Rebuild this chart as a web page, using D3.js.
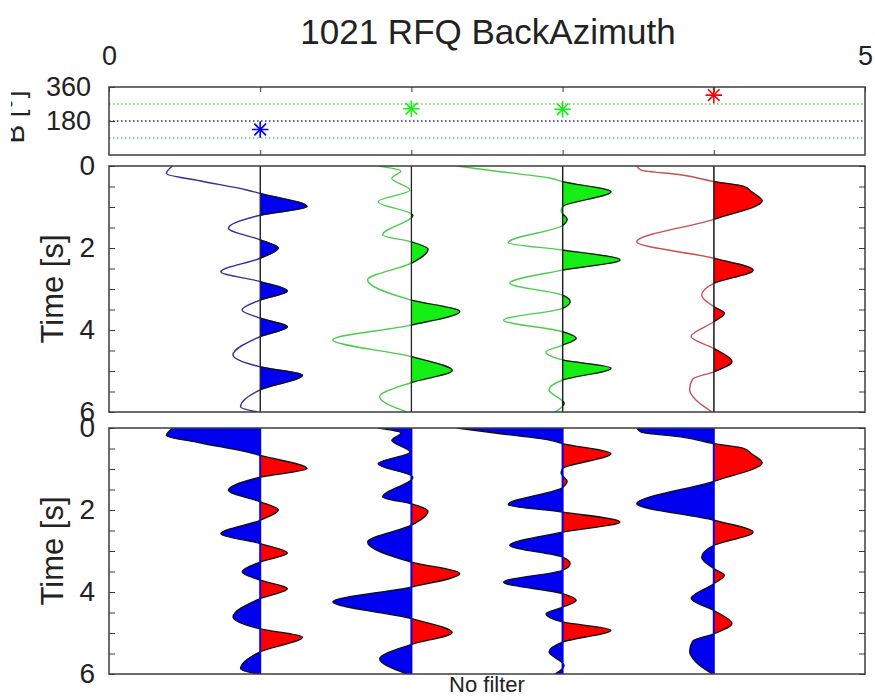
<!DOCTYPE html>
<html>
<head>
<meta charset="utf-8">
<script src="https://cdn.jsdelivr.net/npm/d3@7"></script>
<style>
  body { margin: 0; background: #fff; }
  text { font-family: "Liberation Sans", Arial, sans-serif; fill: #222; }
</style>
</head>
<body>
<div id="chart"></div>
<script>
// stations along the x axis and their back azimuth (deg)
const stations = [1, 2, 3, 4]
const backAzimuth = [135, 245, 242, 317]
const bazGuides = [90, 180, 270]
const bazTickLabels = [180, 360]
const timeTickLabels = [0, 2, 4, 6]
const topTickLabels = [0, 5]

// receiver function traces: [time (s), amplitude in x units]
const trace1 = [[0, -0.58], [0.18, -0.62], [0.36, -0.40], [0.585, -0.09], [0.67, 0], [0.99, 0.31], [1.2, 0],
  [1.52, -0.21], [1.8, 0], [2.0, 0.12], [2.25, 0], [2.58, -0.26], [2.82, 0], [3.05, 0.18], [3.27, 0],
  [3.51, -0.12], [3.71, 0], [3.92, 0.18], [4.16, 0], [4.61, -0.18], [4.9, 0], [5.1, 0.28], [5.46, 0],
  [5.87, -0.13], [6.0, -0.02]]
const trace2 = [[0, -0.22], [0.12, -0.07], [0.3, -0.13], [0.585, -0.01], [0.87, -0.22], [1.2, 0.01],
  [1.68, -0.19], [1.85, 0], [2.03, 0.11], [2.37, 0], [2.78, -0.29], [3.27, 0], [3.55, 0.32], [3.88, 0],
  [4.24, -0.52], [4.65, 0], [4.99, 0.27], [5.28, 0], [5.63, -0.21], [6.0, -0.03]]
const trace3 = [[0, -0.70], [0.14, -0.41], [0.3, -0.08], [0.38, 0], [0.63, 0.32], [0.99, 0], [1.1, -0.01],
  [1.3, 0.03], [1.45, 0], [1.87, -0.36], [2.05, 0], [2.29, 0.38], [2.54, 0], [2.86, -0.35], [3.15, 0],
  [3.31, 0.05], [3.47, 0], [3.76, -0.39], [4.04, 0], [4.2, 0.09], [4.37, 0], [4.53, -0.11], [4.73, 0],
  [4.93, 0.32], [5.22, 0], [5.46, -0.09], [5.79, 0.01], [6.0, -0.05]]
const trace4 = [[0, -0.51], [0.1, -0.48], [0.22, -0.21], [0.38, 0], [0.5, 0.2], [0.63, 0.25], [0.85, 0.32],
  [1.3, 0], [1.85, -0.51], [2.25, 0], [2.54, 0.26], [2.86, 0], [3.15, -0.08], [3.43, 0], [3.59, 0.07],
  [3.8, 0], [4.16, -0.15], [4.45, 0], [4.77, 0.12], [5.02, 0], [5.2, -0.14], [5.45, -0.16], [5.7, -0.12],
  [6.0, -0.01]]
const traces = [trace1, trace2, trace3, trace4]

// styles
const fillColor = ['#0000f0', '#14ee14', '#14ee14', '#ff0000']
const lineColor = ['#30309a', '#4ccc4c', '#4ccc4c', '#c85050']
const guideColor = { 90: '#5cc4bc', 180: '#2a2aa0', 270: '#5ad65a' }
const frameColor = '#3c3c3c'

const W = 875
const H = 700
const svg = d3.select('#chart').append('svg')
  .attr('width', W)
  .attr('height', H)
const defs = svg.append('defs')

const x = d3.scaleLinear().domain([0, 5]).range([109, 865])
const yBaz = d3.scaleLinear().domain([0, 360]).range([155, 87])
const yMid = d3.scaleLinear().domain([0, 6]).range([166, 412])
const yBot = d3.scaleLinear().domain([0, 6]).range([428, 674])
const minorTimes = d3.range(0, 6.01, 0.5)

// title
svg.append('text')
  .attr('x', 488).attr('y', 44)
  .attr('text-anchor', 'middle')
  .attr('font-size', 35)
  .text('1021 RFQ BackAzimuth')

// ---------- top panel: back azimuth ----------
const bazPanel = svg.append('g')
bazGuides.forEach(v => {
  bazPanel.append('line')
    .attr('x1', x(0)).attr('x2', x(5))
    .attr('y1', yBaz(v)).attr('y2', yBaz(v))
    .attr('stroke', guideColor[v])
    .attr('stroke-width', 1.4)
    .attr('stroke-dasharray', '1.5,2.5')
})

bazPanel.append('g')
  .attr('transform', `translate(${x(0)},0)`)
  .call(d3.axisLeft(yBaz).tickValues(bazTickLabels).tickSizeInner(-6).tickSizeOuter(0).tickPadding(18))
  .call(g => g.select('.domain').remove())
  .call(g => g.selectAll('line').attr('stroke', frameColor))
  .call(g => g.selectAll('text').attr('font-size', 27).attr('font-family', null).attr('fill', '#222'))

bazPanel.append('g')
  .attr('transform', `translate(0,${yBaz(360)})`)
  .call(d3.axisTop(x).tickValues([0, 1, 2, 3, 4, 5]).tickSizeInner(-5).tickSizeOuter(0).tickPadding(22)
    .tickFormat(d => topTickLabels.includes(d) ? d : ''))
  .call(g => g.select('.domain').remove())
  .call(g => g.selectAll('line').attr('stroke', frameColor))
  .call(g => g.selectAll('text').attr('font-size', 27).attr('font-family', null).attr('fill', '#222'))

bazPanel.append('g')
  .attr('transform', `translate(0,${yBaz(0)})`)
  .call(d3.axisBottom(x).tickValues(stations).tickSizeInner(-5).tickSizeOuter(0).tickFormat(''))
  .call(g => g.select('.domain').remove())
  .call(g => g.selectAll('line').attr('stroke', frameColor))

const star = d3.symbol().type(d3.symbolPlus).size(90)
const cross = d3.symbol().type(d3.symbolTimes).size(90)
stations.forEach((s, i) => {
  const gs = bazPanel.append('g')
    .attr('transform', `translate(${x(s)},${yBaz(backAzimuth[i])})`)
    .attr('fill', 'none')
    .attr('stroke', fillColor[i])
    .attr('stroke-width', 1.6)
  gs.append('path').attr('d', star())
  gs.append('path').attr('d', cross())
})

bazPanel.append('rect')
  .attr('x', x(0)).attr('y', yBaz(360))
  .attr('width', x(5) - x(0)).attr('height', yBaz(0) - yBaz(360))
  .attr('fill', 'none').attr('stroke', frameColor).attr('stroke-width', 1.5)

// clipped y label of the top panel
defs.append('clipPath').attr('id', 'baz-label-clip')
  .append('rect').attr('x', 11).attr('y', 80).attr('width', 30).attr('height', 85)
svg.append('g')
  .attr('clip-path', 'url(#baz-label-clip)')
  .append('text')
  .attr('transform', 'translate(24,117) rotate(-90)')
  .attr('text-anchor', 'middle')
  .attr('font-size', 28)
  .text('B [°]')

// clip regions right / left of each trace baseline
stations.forEach(s => {
  defs.append('clipPath').attr('id', `pos-${s}`)
    .append('rect').attr('x', x(s)).attr('y', 0).attr('width', 300).attr('height', H)
  defs.append('clipPath').attr('id', `neg-${s}`)
    .append('rect').attr('x', x(s) - 300).attr('y', 0).attr('width', 300).attr('height', H)
})

function timePanel (y, id, label) {
  defs.append('clipPath').attr('id', id)
    .append('rect')
    .attr('x', x(0)).attr('y', y(0))
    .attr('width', x(5) - x(0)).attr('height', y(6) - y(0))

  const g = svg.append('g')
  const plot = g.append('g').attr('clip-path', `url(#${id})`)

  g.append('g')
    .attr('transform', `translate(${x(0)},0)`)
    .call(d3.axisLeft(y).tickValues(minorTimes).tickSizeInner(-6).tickSizeOuter(0).tickFormat(''))
    .call(a => a.select('.domain').remove())
    .call(a => a.selectAll('line').attr('stroke', frameColor))
  g.append('g')
    .attr('transform', `translate(${x(5)},0)`)
    .call(d3.axisRight(y).tickValues(minorTimes).tickSizeInner(-6).tickSizeOuter(0).tickFormat(''))
    .call(a => a.select('.domain').remove())
    .call(a => a.selectAll('line').attr('stroke', frameColor))
  g.append('g')
    .attr('transform', `translate(${x(0)},0)`)
    .call(d3.axisLeft(y).tickValues(timeTickLabels).tickSize(0).tickPadding(14).tickFormat(d3.format('d')))
    .call(a => a.select('.domain').remove())
    .call(a => a.selectAll('text').attr('font-size', 28).attr('font-family', null).attr('fill', '#222'))

  g.append('rect')
    .attr('x', x(0)).attr('y', y(0))
    .attr('width', x(5) - x(0)).attr('height', y(6) - y(0))
    .attr('fill', 'none').attr('stroke', frameColor).attr('stroke-width', 1.5)

  g.append('text')
    .attr('transform', `translate(63,${(y(0) + y(6)) / 2}) rotate(-90)`)
    .attr('text-anchor', 'middle')
    .attr('font-size', 31)
    .text(label)

  return plot
}

const curve = d3.curveMonotoneY

// ---------- middle panel: coloured wiggles ----------
const mid = timePanel(yMid, 'clip-mid', 'Time [s]')
stations.forEach((s, i) => {
  const line = d3.line().x(d => x(s + d[1])).y(d => yMid(d[0])).curve(curve)
  const area = d3.area().y(d => yMid(d[0])).x0(x(s)).x1(d => x(s + d[1])).curve(curve)
  mid.append('path')
    .attr('d', line(traces[i]))
    .attr('fill', 'none')
    .attr('stroke', lineColor[i])
    .attr('stroke-width', 1.4)
  mid.append('path')
    .attr('clip-path', `url(#pos-${s})`)
    .attr('d', area(traces[i]))
    .attr('fill', fillColor[i])
    .attr('stroke', '#111')
    .attr('stroke-width', 1.2)
  mid.append('line')
    .attr('x1', x(s)).attr('x2', x(s))
    .attr('y1', yMid(0)).attr('y2', yMid(6))
    .attr('stroke', '#222').attr('stroke-width', 1.3)
})

// ---------- bottom panel: red / blue wiggles ----------
const bot = timePanel(yBot, 'clip-bot', 'Time [s]')
stations.forEach((s, i) => {
  const line = d3.line().x(d => x(s + d[1])).y(d => yBot(d[0])).curve(curve)
  const area = d3.area().y(d => yBot(d[0])).x0(x(s)).x1(d => x(s + d[1])).curve(curve)
  bot.append('path')
    .attr('clip-path', `url(#neg-${s})`)
    .attr('d', area(traces[i]))
    .attr('fill', '#0000f0')
  bot.append('path')
    .attr('clip-path', `url(#pos-${s})`)
    .attr('d', area(traces[i]))
    .attr('fill', '#ff0000')
  bot.append('path')
    .attr('d', line(traces[i]))
    .attr('fill', 'none')
    .attr('stroke', '#111')
    .attr('stroke-width', 1.3)
  bot.append('line')
    .attr('x1', x(s)).attr('x2', x(s))
    .attr('y1', yBot(0)).attr('y2', yBot(6))
    .attr('stroke', '#0000f0').attr('stroke-width', 2)
})

svg.append('text')
  .attr('x', 487).attr('y', 692)
  .attr('text-anchor', 'middle')
  .attr('font-size', 22)
  .text('No filter')
</script>
</body>
</html>
